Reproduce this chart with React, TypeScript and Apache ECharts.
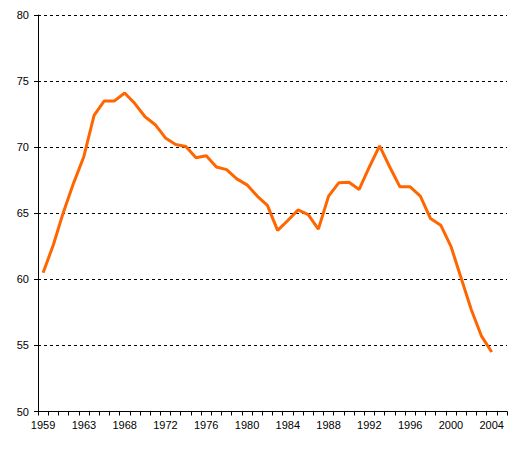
import React, { useEffect, useRef } from "react";
import * as echarts from "echarts";

const years: string[] = [
  "1959", "1960", "1961", "1962", "1963", "1965", "1966", "1967", "1968", "1969",
  "1970", "1971", "1972", "1973", "1974", "1975", "1976", "1977", "1978", "1979",
  "1980", "1981", "1982", "1983", "1984", "1985", "1986", "1987", "1988", "1989",
  "1990", "1991", "1992", "1993", "1994", "1995", "1996", "1997", "1998", "1999",
  "2000", "2001", "2002", "2003", "2004", "2005",
];

const values: (number | null)[] = [
  60.5, 62.6, 65.1, 67.3, 69.3, 72.4, 73.5, 73.5, 74.1, 73.3,
  72.3, 71.7, 70.7, 70.2, 70.05, 69.2, 69.35, 68.5, 68.3, 67.6,
  67.15, 66.3, 65.6, 63.7, 64.45, 65.25, 64.9, 63.8, 66.3, 67.3,
  67.35, 66.8, 68.5, 70.1, 68.5, 67.0, 67.0, 66.3, 64.6, 64.1,
  62.5, 60.1, 57.7, 55.7, 54.5, null,
];

export default function App() {
  const ref = useRef<HTMLDivElement>(null);
  useEffect(() => {
    if (!ref.current) return;
    const chart = echarts.init(ref.current, undefined, { renderer: "svg" });
    const font = "Liberation Sans, Arial, sans-serif";
    chart.setOption({
      animation: false,
      backgroundColor: "#ffffff",
      grid: { left: 38, right: 14, top: 15, bottom: 41.5, containLabel: false },
      xAxis: {
        type: "category",
        data: years,
        boundaryGap: true,
        axisLine: { lineStyle: { color: "#000", width: 1 } },
        axisTick: { show: true, interval: 0, length: 4, lineStyle: { color: "#000" } },
        axisLabel: { interval: 3, color: "#000", fontSize: 11, fontFamily: font, margin: 8 },
        splitLine: { show: false },
      },
      yAxis: {
        type: "value",
        min: 50,
        max: 80,
        interval: 5,
        axisLine: { show: true, lineStyle: { color: "#000", width: 1 } },
        axisTick: { show: true, length: 4, lineStyle: { color: "#000" } },
        axisLabel: { color: "#000", fontSize: 11, fontFamily: font, margin: 9 },
        splitLine: { show: true, lineStyle: { color: "#000", type: [3, 3], width: 1 } },
      },
      series: [
        {
          type: "line",
          data: values,
          symbol: "none",
          smooth: false,
          connectNulls: false,
          lineStyle: { color: "#FF6600", width: 3 },
        },
      ],
    });
    return () => chart.dispose();
  }, []);
  return <div ref={ref} style={{ width: 521, height: 453, position: "absolute", left: 0, top: 0 }} />;
}
